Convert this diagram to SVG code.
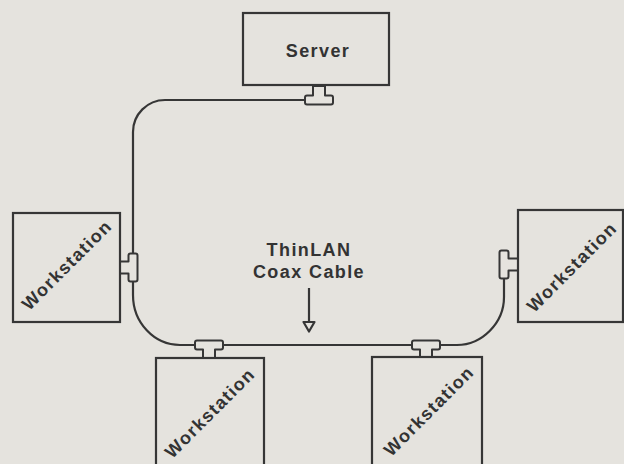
<svg xmlns="http://www.w3.org/2000/svg" width="624" height="464" viewBox="0 0 624 464">
  <style>
    .bg { fill: #e5e3de; }
    .box { fill: #e5e3de; stroke: #363636; stroke-width: 2.2; }
    .cable { fill: none; stroke: #363636; stroke-width: 2.2; }
    .tee { fill: #e5e3de; stroke: #363636; stroke-width: 2; stroke-linejoin: round; }
    .lbl { font-family: "Liberation Sans", Arial, sans-serif; font-weight: bold; font-size: 18px; fill: #333; letter-spacing: 1.4px; text-anchor: middle; }
  </style>
  <defs>
    <path id="tee" class="tee" d="M -14 -2.5 Q -14 -4.5 -12 -4.5 H -6 V -14 H 6 V -4.5 H 12 Q 14 -4.5 14 -2.5 V 2.5 Q 14 4.5 12 4.5 H -12 Q -14 4.5 -14 2.5 Z"/>
  </defs>
  <rect class="bg" x="0" y="0" width="624" height="464"/>

  <g id="connectors">
    <path class="cable" d="M 305 100 H 165 A 32 32 0 0 0 133 132 V 295 C 133 322.5 154 345 180 345 H 457 C 482 345 504 323 504 297 V 265"/>
    <use href="#tee" transform="translate(319,100)"/>
    <use href="#tee" transform="translate(133,267.5) rotate(-90)"/>
    <use href="#tee" transform="translate(504,264.5) rotate(90)"/>
    <use href="#tee" transform="translate(209,345) rotate(180)"/>
    <use href="#tee" transform="translate(426,345) rotate(180)"/>
  </g>

  <g id="cable-label">
    <text class="lbl" x="309" y="256">ThinLAN</text>
    <text class="lbl" x="309" y="278">Coax Cable</text>
    <line class="cable" x1="309" y1="288" x2="309" y2="322"/>
    <path class="cable" d="M 303.5 322 H 314.5 L 309 331.5 Z" stroke-linejoin="round"/>
  </g>

  <g id="server">
    <rect class="box" x="243" y="13" width="146" height="72"/>
    <text class="lbl" x="318" y="57">Server</text>
  </g>

  <g id="ws-left">
    <rect class="box" x="13" y="213" width="107" height="109"/>
    <text class="lbl" transform="translate(67,265) rotate(-45)" x="0" y="6">Workstation</text>
  </g>

  <g id="ws-right">
    <rect class="box" x="518" y="210" width="105" height="112"/>
    <text class="lbl" transform="translate(572,267) rotate(-45)" x="0" y="6">Workstation</text>
  </g>

  <g id="ws-bottom-left">
    <rect class="box" x="156" y="358" width="108" height="120"/>
    <text class="lbl" transform="translate(210,413) rotate(-45)" x="0" y="6">Workstation</text>
  </g>

  <g id="ws-bottom-right">
    <rect class="box" x="372" y="357" width="110" height="120"/>
    <text class="lbl" transform="translate(429,411) rotate(-45)" x="0" y="6">Workstation</text>
  </g>
</svg>
